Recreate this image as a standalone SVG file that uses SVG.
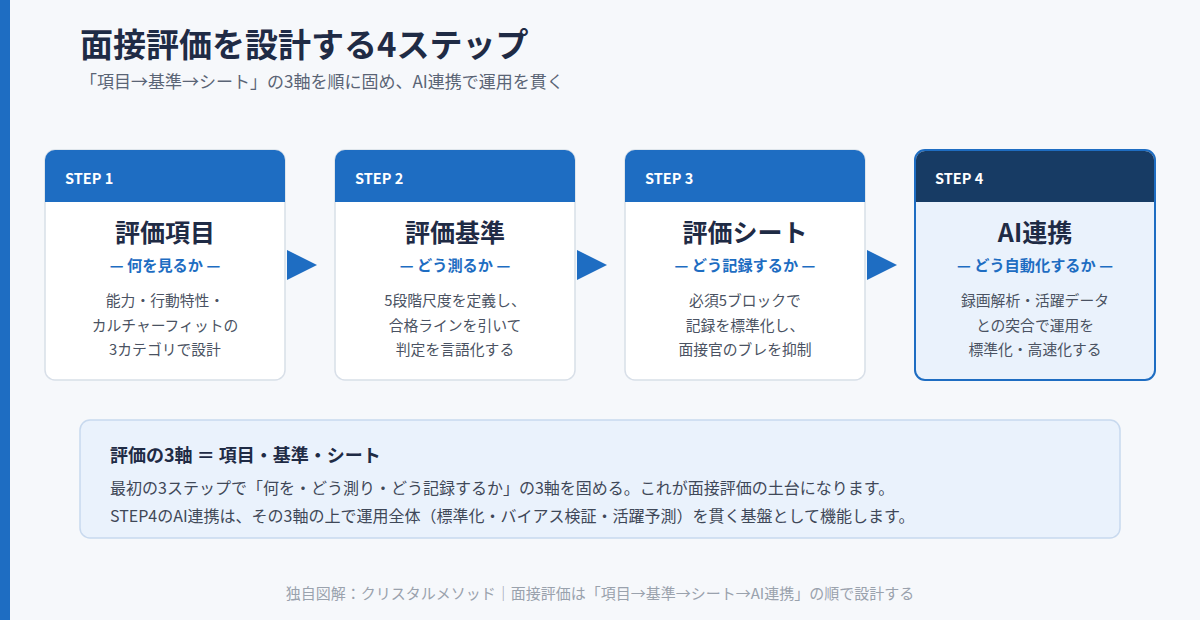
<svg xmlns="http://www.w3.org/2000/svg" width="1200" height="620" viewBox="0 0 1200 620">
<style>
text{font-family:"Noto Sans CJK JP","Noto Sans",sans-serif}
.title{font-size:33px;font-weight:700;fill:#1f2b45}
.sub{font-size:17px;fill:#5a6475}
.card{fill:#ffffff;stroke:#d8dfe8;stroke-width:1.5}
.hdr{fill:#1e6dc2}
.step{font-size:14.5px;font-weight:700;fill:#ffffff}
.ct{font-size:25px;font-weight:700;fill:#1f2b45;text-anchor:middle}
.cs{font-size:15.2px;font-weight:700;fill:#1e6dc2;text-anchor:middle}
.cb{font-size:14.8px;fill:#4a5262;text-anchor:middle}
.arrow{fill:#1e6dc2}
.bh{font-size:18px;font-weight:700;fill:#1f2b45}
.bt{font-size:16px;fill:#3f4858}
.foot{font-size:15px;fill:#9aa2ad;text-anchor:middle}
</style>
<rect width="1200" height="620" fill="#f6f8fb"/>
<rect x="0" y="0" width="10" height="620" fill="#1e6dc2"/>
<text class="title" x="80" y="57">面接評価を設計する4ステップ</text>
<text class="sub" x="80" y="88">「項目→基準→シート」の3軸を順に固め、AI連携で運用を貫く</text>

<g id="step1">
<rect class="card" x="45" y="150" width="240" height="230" rx="10"/>
<path class="hdr" d="M45,202 V160 a10,10 0 0 1 10,-10 H275 a10,10 0 0 1 10,10 V202 Z"/>
<text class="step" x="65" y="184">STEP 1</text>
<text class="ct" x="165" y="242">評価項目</text>
<text class="cs" x="165" y="271">— 何を見るか —</text>
<text class="cb" x="165" y="306">能力・行動特性・</text>
<text class="cb" x="165" y="331">カルチャーフィットの</text>
<text class="cb" x="165" y="355">3カテゴリで設計</text>
</g>
<g id="step2">
<rect class="card" x="335" y="150" width="240" height="230" rx="10"/>
<path class="hdr" d="M335,202 V160 a10,10 0 0 1 10,-10 H565 a10,10 0 0 1 10,10 V202 Z"/>
<text class="step" x="355" y="184">STEP 2</text>
<text class="ct" x="455" y="242">評価基準</text>
<text class="cs" x="455" y="271">— どう測るか —</text>
<text class="cb" x="455" y="306">5段階尺度を定義し、</text>
<text class="cb" x="455" y="331">合格ラインを引いて</text>
<text class="cb" x="455" y="355">判定を言語化する</text>
</g>
<g id="step3">
<rect class="card" x="625" y="150" width="240" height="230" rx="10"/>
<path class="hdr" d="M625,202 V160 a10,10 0 0 1 10,-10 H855 a10,10 0 0 1 10,10 V202 Z"/>
<text class="step" x="645" y="184">STEP 3</text>
<text class="ct" x="745" y="242">評価シート</text>
<text class="cs" x="745" y="271">— どう記録するか —</text>
<text class="cb" x="745" y="306">必須5ブロックで</text>
<text class="cb" x="745" y="331">記録を標準化し、</text>
<text class="cb" x="745" y="355">面接官のブレを抑制</text>
</g>
<g id="step4">
<rect x="915" y="150" width="240" height="230" rx="10" fill="#eaf2fc" stroke="#1e6dc2" stroke-width="2"/>
<path fill="#173b64" d="M916,202 V160 a9,9 0 0 1 9,-9 H1145 a9,9 0 0 1 9,9 V202 Z"/>
<text class="step" x="935" y="184">STEP 4</text>
<text class="ct" x="1035" y="242">AI連携</text>
<text class="cs" x="1035" y="271">— どう自動化するか —</text>
<text class="cb" x="1035" y="306">録画解析・活躍データ</text>
<text class="cb" x="1035" y="331">との突合で運用を</text>
<text class="cb" x="1035" y="355">標準化・高速化する</text>
</g>

<g id="connectors">
<polygon class="arrow" points="287,250 317,265 287,280"/>
<polygon class="arrow" points="577,250 607,265 577,280"/>
<polygon class="arrow" points="867,250 897,265 867,280"/>
</g>

<g id="summary">
<rect x="80" y="420" width="1040" height="118" rx="10" fill="#eaf2fc" stroke="#c8d9ee" stroke-width="1.5"/>
<text class="bh" x="110" y="462">評価の3軸 ＝ 項目・基準・シート</text>
<text class="bt" x="110" y="494">最初の3ステップで「何を・どう測り・どう記録するか」の3軸を固める。これが面接評価の土台になります。</text>
<text class="bt" x="110" y="522">STEP4のAI連携は、その3軸の上で運用全体（標準化・バイアス検証・活躍予測）を貫く基盤として機能します。</text>
</g>
<text class="foot" x="600" y="599">独自図解：クリスタルメソッド｜面接評価は「項目→基準→シート→AI連携」の順で設計する</text>
</svg>
